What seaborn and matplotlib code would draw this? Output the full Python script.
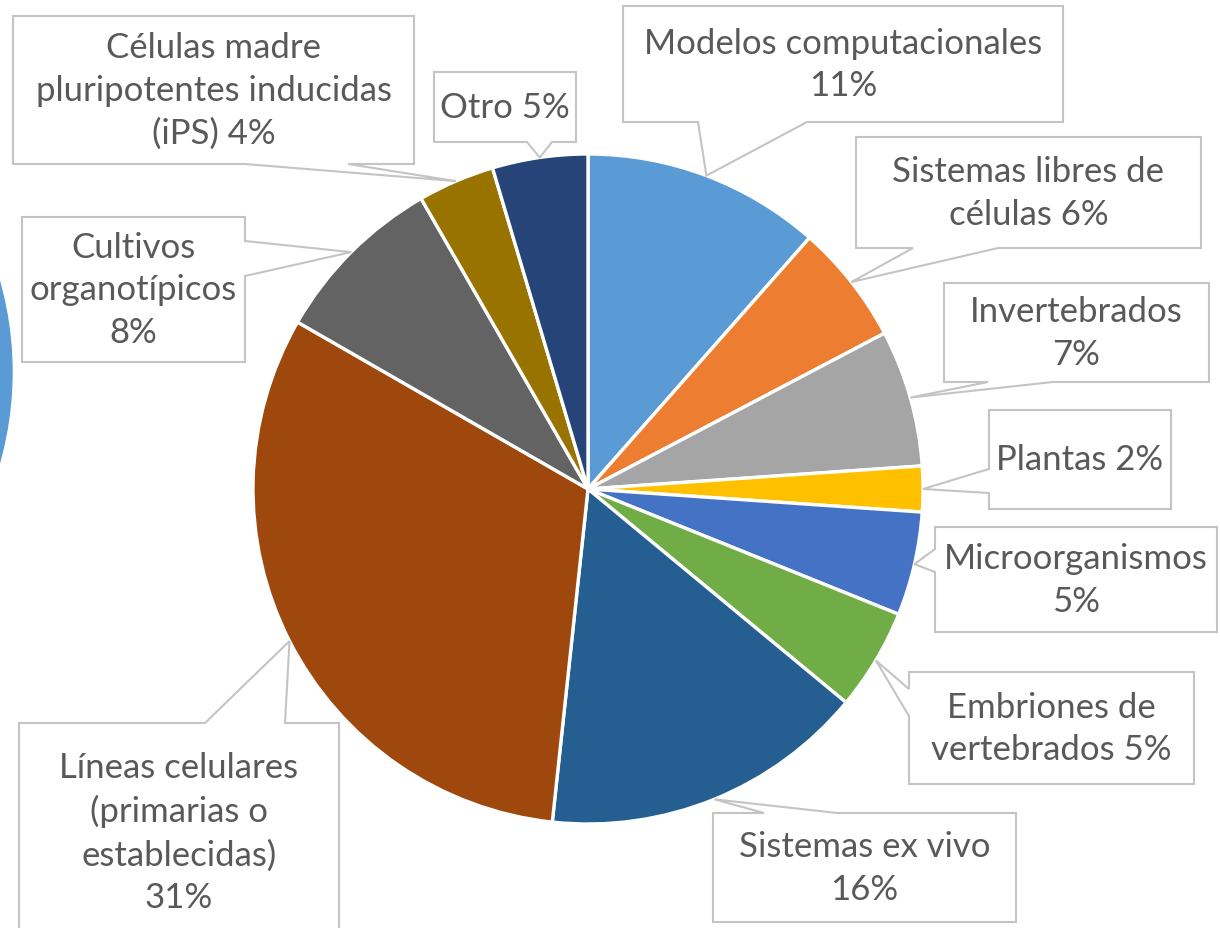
import numpy as np
import matplotlib
matplotlib.use("Agg")
import matplotlib.pyplot as plt
import seaborn as sns
from matplotlib.patches import Polygon, Circle

# slice data, clockwise from 12 o'clock
categories = [
    "Modelos computacionales",
    "Sistemas libres de células",
    "Invertebrados",
    "Plantas",
    "Microorganismos",
    "Embriones de vertebrados",
    "Sistemas ex vivo",
    "Líneas celulares (primarias o establecidas)",
    "Cultivos organotípicos",
    "Células madre pluripotentes inducidas (iPS)",
    "Otro",
]
shares = [11.5, 5.8, 6.6, 2.2, 5.0, 4.9, 15.7, 31.6, 8.4, 3.7, 4.6]
label_texts = [
    "Modelos computacionales\n11%",
    "Sistemas libres de\ncélulas 6%",
    "Invertebrados\n7%",
    "Plantas 2%",
    "Microorganismos\n5%",
    "Embriones de\nvertebrados 5%",
    "Sistemas ex vivo\n16%",
    "Líneas celulares\n(primarias o\nestablecidas)\n31%",
    "Cultivos\norganotípicos\n8%",
    "Células madre\npluripotentes inducidas\n(iPS) 4%",
    "Otro 5%",
]
colors = ["#5B9BD5", "#ED7D31", "#A5A5A5", "#FFC000", "#4472C4", "#70AD47",
          "#255E91", "#9E480E", "#636363", "#997300", "#264478"]

# callout boxes in pixel coords (x0, y0, x1, y1), side of the pointer and its base
boxes = [
    (623, 7, 1063, 123), (856, 138, 1201, 249), (944, 284, 1209, 383),
    (989, 411, 1171, 510), (935, 528, 1217, 633), (909, 673, 1194, 785),
    (713, 814, 1016, 923), (19, 724, 339, 942), (22, 218, 245, 363),
    (13, 17, 414, 165), (434, 73, 576, 143),
]
sides = ["bottom", "bottom", "bottom", "left", "left", "left", "top", "top",
         "right", "bottom", "bottom"]
bases = [(698, 807), (913, 998), (988, 1053), (470, 494), (550, 573), (690, 717),
         (764, 837), (205, 285), (242, 277), (245, 348), (527, 552)]

W, H = 1220, 929
CX, CY, R = 588, 490, 335

sns.set_theme(style="white")
plt.rcParams["font.family"] = ["Lato", "DejaVu Sans"]

fig = plt.figure(figsize=(W / 100, H / 100), dpi=100)
ax = fig.add_axes([0, 0, 1, 1])

# edge of the neighbouring chart peeking in at the left
ax.add_patch(Circle((-323, H - 373), R, color="#5B9BD5", zorder=1))

wedges, _ = ax.pie(shares, colors=colors, startangle=90, counterclock=False,
                   center=(CX, H - CY), radius=R,
                   wedgeprops=dict(edgecolor="white", linewidth=2.4))
ax.set_xlim(0, W)
ax.set_ylim(0, H)
ax.set_aspect("equal")
ax.axis("off")


def callout(box, side, base, tip):
    x0, y0, x1, y1 = box
    a, b = base
    pts = [(x0, y0)]
    if side == "top":
        pts += [(a, y0), tip, (b, y0)]
    pts += [(x1, y0)]
    if side == "right":
        pts += [(x1, a), tip, (x1, b)]
    pts += [(x1, y1)]
    if side == "bottom":
        pts += [(b, y1), tip, (a, y1)]
    pts += [(x0, y1)]
    if side == "left":
        pts += [(x0, b), tip, (x0, a)]
    return [(x, H - y) for x, y in pts]


for w, txt, box, side, base in zip(wedges, label_texts, boxes, sides, bases):
    mid = np.deg2rad((w.theta1 + w.theta2) / 2)
    tx = w.center[0] + w.r * np.cos(mid)
    ty = w.center[1] + w.r * np.sin(mid)
    tip = (tx, H - ty)
    poly = Polygon(callout(box, side, base, tip), closed=True, facecolor="white",
                   edgecolor="#C4C4C4", linewidth=1.5, zorder=3)
    ax.add_patch(poly)
    x0, y0, x1, y1 = box
    yc = (y0 + min(y1, H + 13)) / 2
    ax.text((x0 + x1) / 2, H - yc, txt, ha="center", va="center",
            fontsize=25, color="#595959", linespacing=1.42, zorder=4)

fig.savefig("out.png", dpi=100, facecolor="white")
